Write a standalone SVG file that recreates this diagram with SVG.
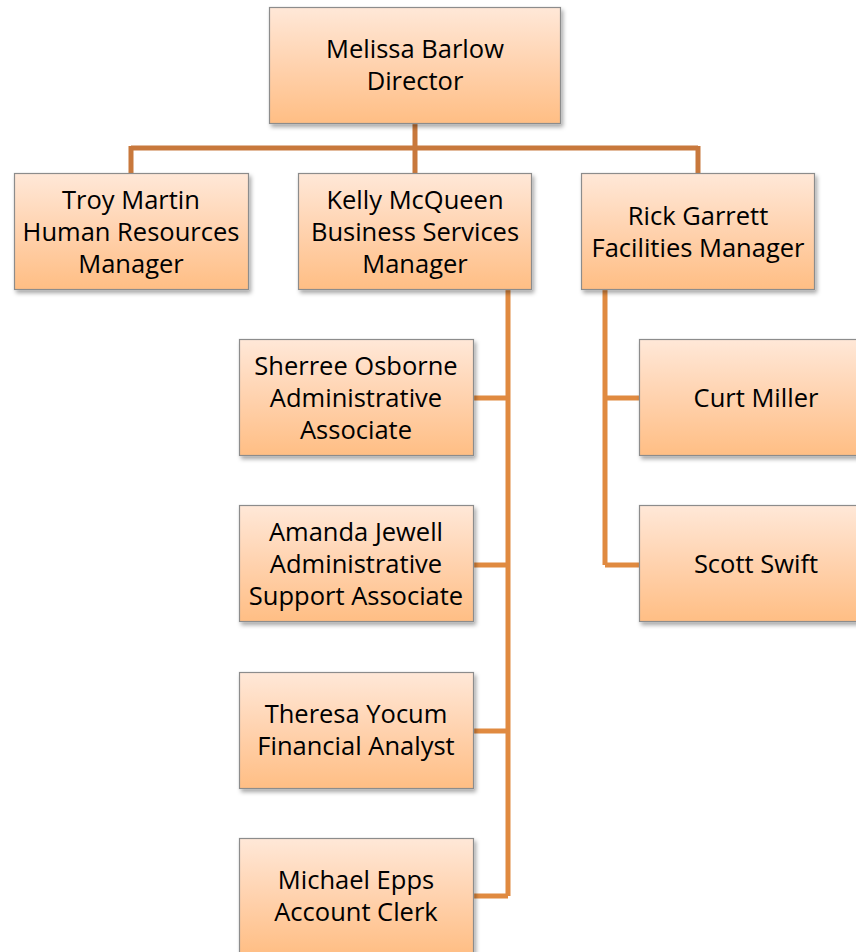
<svg xmlns="http://www.w3.org/2000/svg" width="856" height="952" viewBox="0 0 856 952">
<defs>
<linearGradient id="g" x1="0" y1="0" x2="0" y2="1">
<stop offset="0" stop-color="#FFE8D8"/>
<stop offset="0.5" stop-color="#FFD2AE"/>
<stop offset="1" stop-color="#FFBE84"/>
</linearGradient>
<filter id="sh" x="-10%" y="-10%" width="130%" height="130%">
<feDropShadow dx="2" dy="3" stdDeviation="2" flood-color="#000" flood-opacity="0.35"/>
</filter>
<style>
.box{fill:url(#g);stroke:#8C8C8C;stroke-width:1.2;filter:url(#sh)}
.t{font-family:"Open Sans","Liberation Sans",sans-serif;font-size:25.5px;fill:#000;text-anchor:middle}
.c1{stroke:#C8783C;stroke-width:5;fill:none}
.c2{stroke:#E08A40;stroke-width:5;fill:none}
</style>
</defs>
<rect width="856" height="952" fill="#fff"/>
<g id="connectors">
<path class="c1" d="M415 123V173M131 148H698M131 146V173M698 146V173"/>
<path class="c2" d="M473 398H508M473 565H508M473 731H508M473 896H508M508 290V896"/>
<path class="c2" d="M605 290V565M605 398H639M605 565H639"/>
</g>
<g id="n-melissa"><rect class="box" x="269.5" y="7.5" width="291" height="116"/><text class="t" x="415" y="58">Melissa Barlow</text><text class="t" x="415" y="90">Director</text></g>
<g id="n-troy"><rect class="box" x="14.5" y="173.5" width="234" height="116"/><text class="t" x="131" y="209">Troy Martin</text><text class="t" x="131" y="241">Human Resources</text><text class="t" x="131" y="273">Manager</text></g>
<g id="n-kelly"><rect class="box" x="298.5" y="173.5" width="233" height="116"/><text class="t" x="415" y="209">Kelly McQueen</text><text class="t" x="415" y="241">Business Services</text><text class="t" x="415" y="273">Manager</text></g>
<g id="n-rick"><rect class="box" x="581.5" y="173.5" width="233" height="116"/><text class="t" x="698" y="225">Rick Garrett</text><text class="t" x="698" y="257">Facilities Manager</text></g>
<g id="n-sherree"><rect class="box" x="239.5" y="339.5" width="234" height="116"/><text class="t" x="356" y="375">Sherree Osborne</text><text class="t" x="356" y="407">Administrative</text><text class="t" x="356" y="439">Associate</text></g>
<g id="n-amanda"><rect class="box" x="239.5" y="505.5" width="234" height="116"/><text class="t" x="356" y="541">Amanda Jewell</text><text class="t" x="356" y="573">Administrative</text><text class="t" x="356" y="605">Support Associate</text></g>
<g id="n-theresa"><rect class="box" x="239.5" y="672.5" width="234" height="116"/><text class="t" x="356" y="723">Theresa Yocum</text><text class="t" x="356" y="755">Financial Analyst</text></g>
<g id="n-michael"><rect class="box" x="239.5" y="838.5" width="234" height="116"/><text class="t" x="356" y="889">Michael Epps</text><text class="t" x="356" y="921">Account Clerk</text></g>
<g id="n-curt"><rect class="box" x="639.5" y="339.5" width="234" height="116"/><text class="t" x="756" y="407">Curt Miller</text></g>
<g id="n-scott"><rect class="box" x="639.5" y="505.5" width="234" height="116"/><text class="t" x="756" y="573">Scott Swift</text></g>
</svg>
